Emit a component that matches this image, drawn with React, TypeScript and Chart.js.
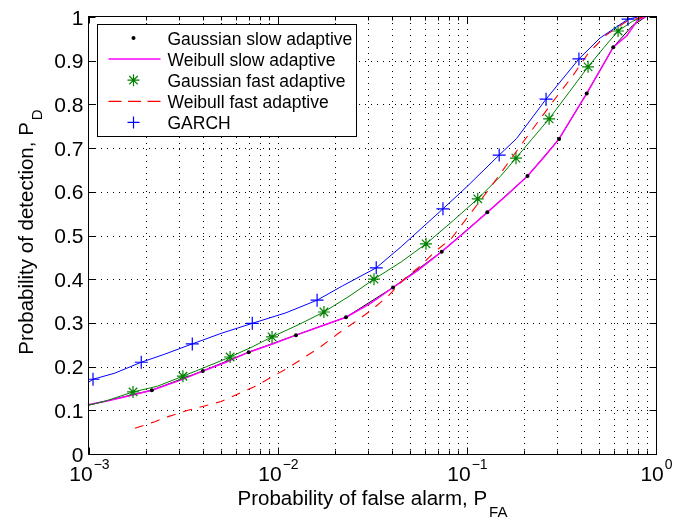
import { useEffect, useRef } from "react";
import { Chart, registerables } from "chart.js";

Chart.register(...registerables);

// ---------- data ----------
const gaussSlowX = [0.001, 0.00215, 0.004, 0.007, 0.01245, 0.0229, 0.0406, 0.0735, 0.128, 0.209, 0.307, 0.43, 0.594, 0.75, 0.88];
const gaussSlowY = [0.112, 0.146, 0.19, 0.233, 0.272, 0.313, 0.381, 0.463, 0.553, 0.636, 0.721, 0.825, 0.931, 0.98, 1.0];
const gaussSlowMarks = [1, 2, 3, 4, 5, 6, 7, 8, 9, 10, 11, 12];

const weibullSlowX = [0.001, 0.0013, 0.0017, 0.00215, 0.003, 0.004, 0.0053, 0.007, 0.0095, 0.01245, 0.017, 0.0229, 0.031, 0.0406, 0.055, 0.0735, 0.1, 0.128, 0.165, 0.209, 0.26, 0.307, 0.37, 0.43, 0.51, 0.594, 0.7, 0.8, 0.88];
const weibullSlowY = [0.113, 0.123, 0.135, 0.146, 0.168, 0.19, 0.21, 0.233, 0.253, 0.272, 0.293, 0.313, 0.345, 0.381, 0.42, 0.463, 0.512, 0.553, 0.595, 0.636, 0.683, 0.721, 0.779, 0.825, 0.881, 0.931, 0.957, 0.993, 1.0];

const gaussFastX = [0.001, 0.00122, 0.00171, 0.0023, 0.00314, 0.0042, 0.00558, 0.0073, 0.0093, 0.013, 0.0175, 0.024, 0.0322, 0.045, 0.0607, 0.085, 0.114, 0.15, 0.1816, 0.22, 0.272, 0.35, 0.437, 0.53, 0.63, 0.75, 0.85];
const gaussFastY = [0.112, 0.121, 0.142, 0.155, 0.178, 0.2, 0.222, 0.245, 0.268, 0.297, 0.325, 0.362, 0.4, 0.44, 0.481, 0.535, 0.584, 0.635, 0.677, 0.72, 0.767, 0.83, 0.886, 0.93, 0.968, 0.99, 1.0];
const gaussFastMarks = [2, 4, 6, 8, 10, 12, 14, 16, 18, 20, 22, 24];

const weibullFastX = [0.00175, 0.00223, 0.0026, 0.00334, 0.005, 0.0075, 0.0113, 0.0169, 0.021, 0.0261, 0.0318, 0.0388, 0.0462, 0.0564, 0.0677, 0.083, 0.0995, 0.132, 0.199, 0.281, 0.365, 0.438, 0.55, 0.7, 0.85];
const weibullFastY = [0.059, 0.074, 0.085, 0.1, 0.12, 0.154, 0.197, 0.246, 0.277, 0.305, 0.332, 0.364, 0.399, 0.43, 0.463, 0.494, 0.539, 0.608, 0.715, 0.803, 0.867, 0.917, 0.96, 0.99, 1.0];

const garchX = [0.001, 0.00105, 0.00137, 0.00189, 0.0025, 0.00352, 0.005, 0.00731, 0.011, 0.0161, 0.022, 0.0331, 0.045, 0.0746, 0.1, 0.148, 0.183, 0.262, 0.33, 0.391, 0.506, 0.711, 0.8];
const garchY = [0.165, 0.171, 0.185, 0.21, 0.228, 0.252, 0.276, 0.299, 0.323, 0.352, 0.385, 0.426, 0.475, 0.561, 0.612, 0.684, 0.722, 0.812, 0.865, 0.904, 0.952, 0.995, 1.0];
const garchMarks = [1, 3, 5, 7, 9, 11, 13, 15, 17, 19, 21];

const yTicks = [0, 0.1, 0.2, 0.3, 0.4, 0.5, 0.6, 0.7, 0.8, 0.9, 1];
const yTickLabels = ["0", "0.1", "0.2", "0.3", "0.4", "0.5", "0.6", "0.7", "0.8", "0.9", "1"];
const xDecades = [-3, -2, -1, 0];
const xMinorMultipliers = [2, 3, 4, 5, 6, 7, 8, 9];

const legendLabels = [
  "Gaussian slow adaptive",
  "Weibull slow adaptive",
  "Gaussian fast adaptive",
  "Weibull fast adaptive",
  "GARCH",
];

const xLabelMain = "Probability of false alarm, P";
const xLabelSub = "FA";
const yLabelMain = "Probability of detection, P";
const yLabelSub = "D";

const FONT = '"Liberation Sans", Arial, Helvetica, sans-serif';
const BLUE = "#0000ff";
const GREEN = "#008000";
const MAGENTA = "#ff00ff";
const RED = "#ff0000";

const pts = (xs: number[], ys: number[]) => xs.map((v, i) => ({ x: v, y: ys[i] }));

function drawStar(ctx: CanvasRenderingContext2D, x: number, y: number, r: number, color: string) {
  ctx.save();
  ctx.strokeStyle = color;
  ctx.lineWidth = 1.2;
  ctx.beginPath();
  ctx.moveTo(x - r, y); ctx.lineTo(x + r, y);
  ctx.moveTo(x, y - r); ctx.lineTo(x, y + r);
  const d = r * Math.SQRT1_2;
  ctx.moveTo(x - d, y - d); ctx.lineTo(x + d, y + d);
  ctx.moveTo(x - d, y + d); ctx.lineTo(x + d, y - d);
  ctx.stroke();
  ctx.restore();
}

function drawCross(ctx: CanvasRenderingContext2D, x: number, y: number, r: number, color: string) {
  ctx.save();
  ctx.strokeStyle = color;
  ctx.lineWidth = 1.2;
  ctx.beginPath();
  ctx.moveTo(x - r, y); ctx.lineTo(x + r, y);
  ctx.moveTo(x, y - r); ctx.lineTo(x, y + r);
  ctx.stroke();
  ctx.restore();
}

const gridPlugin = {
  id: "matlabGrid",
  beforeDatasetsDraw(chart: any) {
    const { ctx, chartArea: a, scales } = chart;
    const xs = scales.x, ys = scales.y;
    ctx.save();
    ctx.strokeStyle = "#000";
    ctx.lineWidth = 1;
    ctx.setLineDash([1, 5]);
    const xGrid: number[] = [];
    xDecades.forEach((d) => {
      const base = Math.pow(10, d);
      if (d > -3) xGrid.push(base);
      if (d < 0) xMinorMultipliers.forEach((m) => xGrid.push(m * base));
    });
    xGrid.forEach((v) => {
      if (v <= 0.001 || v >= 1) return;
      const px = Math.round(xs.getPixelForValue(v)) + 0.5;
      ctx.beginPath();
      ctx.moveTo(px, a.top);
      ctx.lineTo(px, a.bottom);
      ctx.stroke();
    });
    yTicks.forEach((v) => {
      if (v <= 0 || v >= 1) return;
      const py = Math.round(ys.getPixelForValue(v)) + 0.5;
      ctx.beginPath();
      ctx.moveTo(a.left, py);
      ctx.lineTo(a.right, py);
      ctx.stroke();
    });
    ctx.restore();
  },
  afterDraw(chart: any) {
    const { ctx, chartArea: a, scales } = chart;
    const xs = scales.x, ys = scales.y;
    ctx.save();
    ctx.setLineDash([]);
    ctx.strokeStyle = "#000";
    ctx.lineWidth = 1;
    const L = Math.round(a.left) - 0.5, R = Math.round(a.right) + 0.5;
    const T = Math.round(a.top) - 0.5, B = Math.round(a.bottom) + 0.5;
    ctx.strokeRect(L, T, R - L, B - T);

    // ticks
    ctx.beginPath();
    xDecades.forEach((d) => {
      const base = Math.pow(10, d);
      const px = Math.round(xs.getPixelForValue(base)) + 0.5;
      ctx.moveTo(px, B); ctx.lineTo(px, B - 7);
      ctx.moveTo(px, T); ctx.lineTo(px, T + 7);
      if (d < 0) {
        xMinorMultipliers.forEach((m) => {
          const qx = Math.round(xs.getPixelForValue(m * base)) + 0.5;
          ctx.moveTo(qx, B); ctx.lineTo(qx, B - 4);
          ctx.moveTo(qx, T); ctx.lineTo(qx, T + 4);
        });
      }
    });
    yTicks.forEach((v) => {
      const py = Math.round(ys.getPixelForValue(v)) + 0.5;
      ctx.moveTo(L, py); ctx.lineTo(L + 7, py);
      ctx.moveTo(R, py); ctx.lineTo(R - 7, py);
    });
    ctx.stroke();

    // y tick labels
    ctx.fillStyle = "#000";
    ctx.font = `21px ${FONT}`;
    ctx.textAlign = "right";
    ctx.textBaseline = "alphabetic";
    yTicks.forEach((v, i) => {
      const py = ys.getPixelForValue(v);
      ctx.fillText(yTickLabels[i], L - 5, py + 7.5);
    });

    // x tick labels 10^d
    ctx.textAlign = "left";
    xDecades.forEach((d) => {
      const px = xs.getPixelForValue(Math.pow(10, d));
      const baseTxt = "10";
      const supTxt = d < 0 ? "\u2212" + Math.abs(d) : String(d);
      ctx.font = `21px ${FONT}`;
      const wb = ctx.measureText(baseTxt).width;
      ctx.font = `14px ${FONT}`;
      const ws = ctx.measureText(supTxt).width;
      const start = px - (wb + ws) / 2;
      ctx.font = `21px ${FONT}`;
      ctx.fillText(baseTxt, start, 481);
      ctx.font = `14px ${FONT}`;
      ctx.fillText(supTxt, start + wb + 1, 469);
    });

    // x axis title
    {
      ctx.font = `20.5px ${FONT}`;
      const wm = ctx.measureText(xLabelMain).width;
      ctx.font = `15px ${FONT}`;
      const wsub = ctx.measureText(xLabelSub).width;
      const cx = (a.left + a.right) / 2;
      const start = cx - (wm + wsub + 2) / 2;
      ctx.font = `20.5px ${FONT}`;
      ctx.fillText(xLabelMain, start, 505);
      ctx.font = `15px ${FONT}`;
      ctx.fillText(xLabelSub, start + wm + 2, 517);
    }

    // y axis title
    {
      ctx.save();
      ctx.translate(33, 232);
      ctx.rotate(-Math.PI / 2);
      ctx.font = `20.5px ${FONT}`;
      const wm = ctx.measureText(yLabelMain).width;
      ctx.font = `15px ${FONT}`;
      const wsub = ctx.measureText(yLabelSub).width;
      const start = -(wm + wsub + 2) / 2;
      ctx.font = `20.5px ${FONT}`;
      ctx.fillText(yLabelMain, start, 0);
      ctx.font = `15px ${FONT}`;
      ctx.fillText(yLabelSub, start + wm + 2, 9);
      ctx.restore();
    }

    // legend
    {
      const bx = Math.round(a.left) + 8.5;
      const by = Math.round(a.top) + 7.5;
      const bw = 259, bh = 112;
      ctx.fillStyle = "#fff";
      ctx.fillRect(bx, by, bw, bh);
      ctx.strokeStyle = "#000";
      ctx.lineWidth = 1;
      ctx.strokeRect(bx, by, bw, bh);
      ctx.font = `17.5px ${FONT}`;
      ctx.textAlign = "left";
      ctx.textBaseline = "alphabetic";
      legendLabels.forEach((lab, i) => {
        const base = by + 20 + i * 21.1;
        const cy = base - 6.5;
        const mx = bx + 36;
        if (i === 0) {
          ctx.fillStyle = "#000";
          ctx.beginPath();
          ctx.arc(mx, cy, 2, 0, Math.PI * 2);
          ctx.fill();
        } else if (i === 1) {
          ctx.strokeStyle = MAGENTA;
          ctx.lineWidth = 1.5;
          ctx.beginPath();
          ctx.moveTo(bx + 11, cy); ctx.lineTo(bx + 63, cy);
          ctx.stroke();
        } else if (i === 2) {
          drawStar(ctx, mx, cy, 6, GREEN);
        } else if (i === 3) {
          ctx.strokeStyle = RED;
          ctx.lineWidth = 1.2;
          ctx.setLineDash([13, 6.5]);
          ctx.beginPath();
          ctx.moveTo(bx + 11, cy); ctx.lineTo(bx + 63, cy);
          ctx.stroke();
          ctx.setLineDash([]);
        } else {
          drawCross(ctx, mx, cy, 6, BLUE);
        }
        ctx.fillStyle = "#000";
        ctx.fillText(lab, bx + 70, base);
      });
    }
    ctx.restore();
  },
};

export default function App() {
  const ref = useRef<HTMLCanvasElement | null>(null);

  useEffect(() => {
    document.body.style.margin = "0";
    const canvas = ref.current;
    if (!canvas) return;
    const markRadius = (marks: number[], r: number) => (c: any) => (marks.includes(c.dataIndex) ? r : 0);

    const chart = new Chart(canvas, {
      type: "scatter",
      data: {
        datasets: [
          {
            label: "GARCH",
            data: pts(garchX, garchY),
            showLine: true,
            borderColor: BLUE,
            borderWidth: 1,
            pointStyle: "cross",
            pointRadius: markRadius(garchMarks, 6.5),
            pointBorderColor: BLUE,
            pointBorderWidth: 1.2,
            pointBackgroundColor: BLUE,
            order: 1,
          },
          {
            label: "Weibull fast adaptive",
            data: pts(weibullFastX, weibullFastY),
            showLine: true,
            borderColor: RED,
            borderWidth: 1.1,
            borderDash: [9, 8],
            pointRadius: 0,
            order: 2,
          },
          {
            label: "Gaussian fast adaptive",
            data: pts(gaussFastX, gaussFastY),
            showLine: true,
            borderColor: GREEN,
            borderWidth: 1,
            pointStyle: "star",
            pointRadius: markRadius(gaussFastMarks, 6),
            pointBorderColor: GREEN,
            pointBorderWidth: 1.2,
            pointBackgroundColor: GREEN,
            order: 3,
          },
          {
            label: "Gaussian slow adaptive (markers)",
            data: pts(gaussSlowX, gaussSlowY),
            showLine: false,
            pointStyle: "circle",
            pointRadius: markRadius(gaussSlowMarks, 2),
            pointBorderWidth: 0,
            pointBackgroundColor: "#000",
            pointBorderColor: "#000",
            order: 4,
          },
          {
            label: "Weibull slow adaptive",
            data: pts(weibullSlowX, weibullSlowY),
            showLine: true,
            borderColor: MAGENTA,
            borderWidth: 1.5,
            pointRadius: 0,
            order: 5,
          },
          {
            label: "Gaussian slow adaptive",
            data: pts(gaussSlowX, gaussSlowY),
            showLine: true,
            borderColor: "#000",
            borderWidth: 1,
            pointRadius: 0,
            order: 6,
          },
        ],
      },
      options: {
        animation: false,
        responsive: false,
        maintainAspectRatio: false,
        devicePixelRatio: 1,
        events: [],
        layout: { padding: { left: 89, right: 28, top: 17, bottom: 67 } },
        scales: {
          x: { type: "logarithmic", min: 0.001, max: 1, display: false },
          y: { type: "linear", min: 0, max: 1, display: false },
        },
        plugins: {
          legend: { display: false },
          tooltip: { enabled: false },
        },
      },
      plugins: [gridPlugin],
    } as any);
    return () => chart.destroy();
  }, []);

  return (
    <div style={{ width: 684, height: 521, background: "#fff" }}>
      <canvas ref={ref} width={684} height={521} style={{ display: "block" }} />
    </div>
  );
}
